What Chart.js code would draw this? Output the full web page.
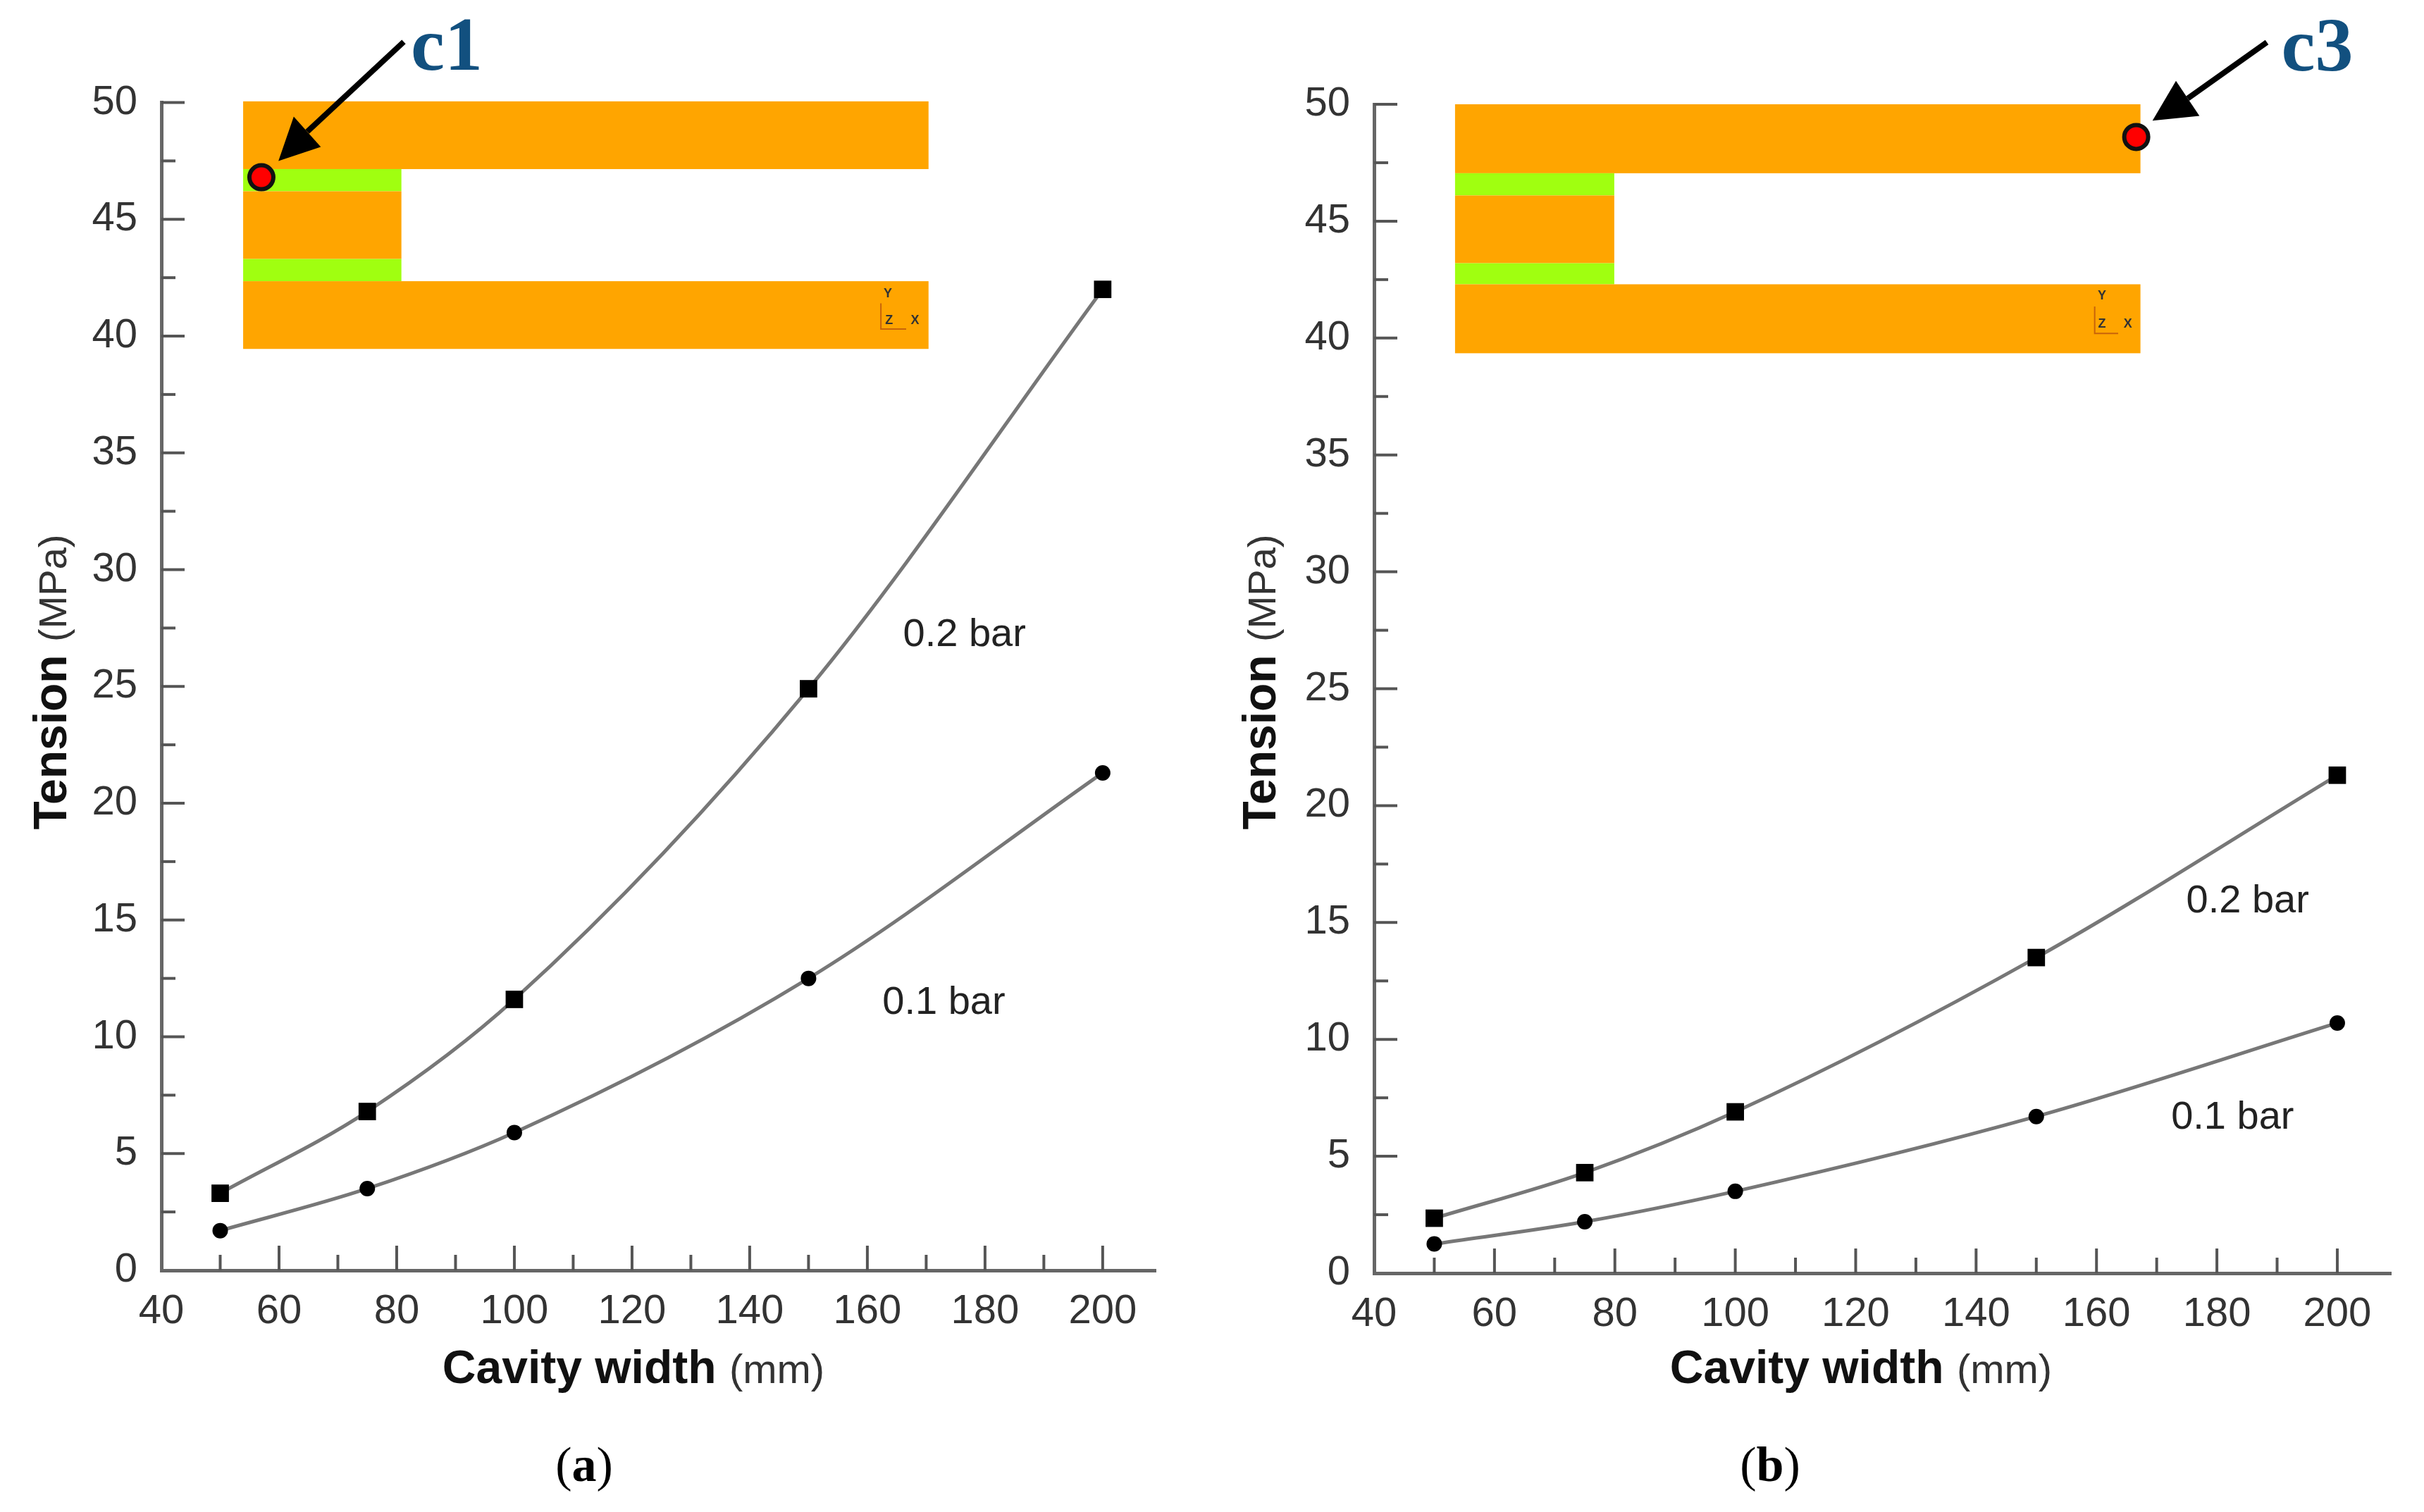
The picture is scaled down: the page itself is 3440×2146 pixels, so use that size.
<!DOCTYPE html>
<html>
<head>
<meta charset="utf-8">
<title>Tension vs cavity width</title>
<script src="https://cdn.jsdelivr.net/npm/chart.js@4"></script>
<style>
    html, body { margin: 0; background: #fff; }
    canvas { position: absolute; top: 0; }
</style>
</head>
<body>
<canvas id="chartA" width="1720" height="2146" style="left:0"></canvas>
<canvas id="chartB" width="1720" height="2146" style="left:1720px"></canvas>
<script>
const cavityWidths = [50, 75, 100, 150, 200];

const tensionA02 = [3.3, 6.8, 11.6, 24.9, 42.0];
const tensionA01 = [1.7, 3.5, 5.9, 12.5, 21.3];
const tensionB02 = [2.35, 4.3, 6.9, 13.5, 21.3];
const tensionB01 = [1.25, 2.2, 3.5, 6.7, 10.7];

const xMajorTicks = [60, 80, 100, 120, 140, 160, 180, 200];
const xMinorTicks = [50, 70, 90, 110, 130, 150, 170, 190];
const yMajorTicks = [5, 10, 15, 20, 25, 30, 35, 40, 45, 50];
const yMinorTicks = [2.5, 7.5, 12.5, 17.5, 22.5, 27.5, 32.5, 37.5, 42.5, 47.5];

const SANS = '"Liberation Sans", Arial, sans-serif';
const SERIF = '"Liberation Serif", "Times New Roman", serif';
const AXIS_GREY = '#666';
const ORANGE = '#ffa500';
const GREEN = '#a0ff10';

// inset, arrow and label places are given in axis units
const panelA = {
    caption: 'a', captionX: 829,
    left: 229, right: 80, top: 145.5, bottom: 343, xMax: 209,
    series02: tensionA02, series01: tensionA01,
    label02: [176.5, 27.2], label01: [173, 11.45],
    inset: { x0: 53.9, x1: 170.4, notch: 80.8, y: [50.05, 47.15, 46.2, 43.3, 42.35, 39.45] },
    triad: { vx: 162.3, hx: 166.6, top: 41.4, bottom: 40.3, yLabel: [163.5, 41.8], zLabel: [163.7, 40.65], xLabel: [168.1, 40.65] },
    dot: [57.0, 46.8],
    arrow: { from: [81.2, 52.6], tip: [59.9, 47.5], b1: [62.5, 49.4], b2: [67.1, 48.1] },
    tag: 'c1', tagAt: [82.4, 51.4],
    xTitleCenter: 899, yTitleBaseline: 94
};
const panelB = {
    caption: 'b', captionX: 792,
    left: 230, right: 47, top: 148, bottom: 339, xMax: 208.9,
    series02: tensionB02, series01: tensionB01,
    label02: [185.1, 15.9], label01: [182.6, 6.65],
    inset: { x0: 53.45, x1: 167.3, notch: 79.9, y: [50, 47.05, 46.1, 43.2, 42.3, 39.35] },
    triad: { vx: 159.7, hx: 163.6, top: 41.35, bottom: 40.2, yLabel: [160.9, 41.8], zLabel: [160.9, 40.6], xLabel: [165.2, 40.6] },
    dot: [166.6, 48.6],
    arrow: { from: [188.3, 52.65], tip: [169.3, 49.3], b1: [173.2, 51.0], b2: [177.1, 49.5] },
    tag: 'c3', tagAt: [190.7, 51.45],
    xTitleCenter: 921, yTitleBaseline: 90
};

// draws text pieces with different fonts one after the other, centred on x
function drawRuns(ctx, runs, x, y) {
    let total = 0;
    runs.forEach(r => { ctx.font = r.font; total += ctx.measureText(r.text).width; });
    let cur = x - total / 2;
    ctx.textAlign = 'left';
    ctx.textBaseline = 'alphabetic';
    runs.forEach(r => {
        ctx.font = r.font;
        ctx.fillStyle = r.color;
        ctx.fillText(r.text, cur, y);
        cur += ctx.measureText(r.text).width;
    });
}

function insetPlugin(panel) {
    return {
        id: 'inset',
        beforeDatasetsDraw(chart) {
            const ctx = chart.ctx, sx = chart.scales.x, sy = chart.scales.y;
            const px = v => sx.getPixelForValue(v), py = v => sy.getPixelForValue(v);
            const ins = panel.inset;
            const band = (x1, top, bottom, color) => {
                ctx.fillStyle = color;
                ctx.fillRect(px(ins.x0), py(top), px(x1) - px(ins.x0), py(bottom) - py(top));
            };
            band(ins.x1, ins.y[0], ins.y[1], ORANGE);
            band(ins.notch, ins.y[1], ins.y[2], GREEN);
            band(ins.notch, ins.y[2], ins.y[3], ORANGE);
            band(ins.notch, ins.y[3], ins.y[4], GREEN);
            band(ins.x1, ins.y[4], ins.y[5], ORANGE);

            // small coordinate triad
            const t = panel.triad;
            ctx.strokeStyle = '#c8640a';
            ctx.lineWidth = 2;
            ctx.beginPath();
            ctx.moveTo(px(t.vx), py(t.top));
            ctx.lineTo(px(t.vx), py(t.bottom));
            ctx.lineTo(px(t.hx), py(t.bottom));
            ctx.stroke();
            ctx.fillStyle = '#333';
            ctx.font = 'bold 18px ' + SANS;
            ctx.textAlign = 'center';
            ctx.textBaseline = 'middle';
            ctx.fillText('Y', px(t.yLabel[0]), py(t.yLabel[1]));
            ctx.fillText('Z', px(t.zLabel[0]), py(t.zLabel[1]));
            ctx.fillText('X', px(t.xLabel[0]), py(t.xLabel[1]));
        },
        afterDraw(chart) {
            const ctx = chart.ctx, sx = chart.scales.x, sy = chart.scales.y, area = chart.chartArea;
            const px = v => sx.getPixelForValue(v), py = v => sy.getPixelForValue(v);

            // ticks point inwards
            ctx.strokeStyle = '#555';
            ctx.lineWidth = 4;
            const xTick = (v, len) => {
                ctx.beginPath(); ctx.moveTo(px(v), area.bottom); ctx.lineTo(px(v), area.bottom - len); ctx.stroke();
            };
            const yTick = (v, len) => {
                ctx.beginPath(); ctx.moveTo(area.left, py(v)); ctx.lineTo(area.left + len, py(v)); ctx.stroke();
            };
            xMajorTicks.forEach(v => xTick(v, 35));
            xMinorTicks.forEach(v => xTick(v, 22));
            yMajorTicks.forEach(v => yTick(v, 33));
            yMinorTicks.forEach(v => yTick(v, 20));

            // pressure labels
            ctx.fillStyle = '#222';
            ctx.font = '56px ' + SANS;
            ctx.textAlign = 'center';
            ctx.textBaseline = 'middle';
            ctx.fillText('0.2 bar', px(panel.label02[0]), py(panel.label02[1]));
            ctx.fillText('0.1 bar', px(panel.label01[0]), py(panel.label01[1]));

            // arrow and marked corner
            const a = panel.arrow;
            ctx.strokeStyle = '#000';
            ctx.lineWidth = 8;
            ctx.beginPath();
            ctx.moveTo(px(a.from[0]), py(a.from[1]));
            ctx.lineTo((px(a.b1[0]) + px(a.b2[0])) / 2, (py(a.b1[1]) + py(a.b2[1])) / 2);
            ctx.stroke();
            ctx.fillStyle = '#000';
            ctx.beginPath();
            ctx.moveTo(px(a.tip[0]), py(a.tip[1]));
            ctx.lineTo(px(a.b1[0]), py(a.b1[1]));
            ctx.lineTo(px(a.b2[0]), py(a.b2[1]));
            ctx.closePath();
            ctx.fill();

            ctx.fillStyle = '#f00';
            ctx.strokeStyle = '#111';
            ctx.lineWidth = 6;
            ctx.beginPath();
            ctx.arc(px(panel.dot[0]), py(panel.dot[1]), 17, 0, Math.PI * 2);
            ctx.fill();
            ctx.stroke();

            ctx.fillStyle = '#12507f';
            ctx.font = 'bold 108px ' + SERIF;
            ctx.textAlign = 'left';
            ctx.textBaseline = 'alphabetic';
            ctx.fillText(panel.tag, px(panel.tagAt[0]), py(panel.tagAt[1]));

            // axis titles, bold word plus a lighter unit
            drawRuns(ctx, [
                { text: 'Cavity width ', font: 'bold 66px ' + SANS, color: '#111' },
                { text: '(mm)', font: '58px ' + SANS, color: '#333' }
            ], panel.xTitleCenter, 1963);

            ctx.save();
            ctx.translate(panel.yTitleBaseline, 968);
            ctx.rotate(-Math.PI / 2);
            drawRuns(ctx, [
                { text: 'Tension ', font: 'bold 66px ' + SANS, color: '#111' },
                { text: '(MPa)', font: '56px ' + SANS, color: '#333' }
            ], 0, 0);
            ctx.restore();

            drawRuns(ctx, [
                { text: '(', font: '70px ' + SERIF, color: '#000' },
                { text: panel.caption, font: 'bold 70px ' + SERIF, color: '#000' },
                { text: ')', font: '70px ' + SERIF, color: '#000' }
            ], panel.captionX, 2102);
        }
    };
}

function makeChart(canvasId, panel) {
    const toPoints = values => values.map((v, i) => ({ x: cavityWidths[i], y: v }));
    const seriesStyle = {
        borderColor: '#777',
        borderWidth: 5,
        pointBackgroundColor: '#000',
        pointBorderColor: '#000',
        pointBorderWidth: 0,
        cubicInterpolationMode: 'monotone',
        clip: false
    };
    return new Chart(document.getElementById(canvasId), {
        type: 'line',
        data: {
            datasets: [
                Object.assign({ label: '0.2 bar', data: toPoints(panel.series02), pointStyle: 'rect', pointRadius: 17.5 }, seriesStyle),
                Object.assign({ label: '0.1 bar', data: toPoints(panel.series01), pointStyle: 'circle', pointRadius: 11 }, seriesStyle)
            ]
        },
        options: {
            responsive: false,
            animation: false,
            devicePixelRatio: 1,
            layout: { padding: { top: panel.top, right: panel.right } },
            plugins: { legend: { display: false }, tooltip: { enabled: false } },
            scales: {
                x: {
                    type: 'linear',
                    min: 40,
                    max: panel.xMax,
                    afterFit: scale => { scale.height = panel.bottom; },
                    grid: { display: false },
                    border: { display: true, color: AXIS_GREY, width: 5 },
                    ticks: {
                        stepSize: 20,
                        includeBounds: false,
                        autoSkip: false,
                        maxRotation: 0,
                        padding: 16,
                        color: '#333',
                        font: { family: SANS, size: 58 }
                    }
                },
                y: {
                    type: 'linear',
                    min: 0,
                    max: 50,
                    afterFit: scale => { scale.width = panel.left; },
                    grid: { display: false },
                    border: { display: true, color: AXIS_GREY, width: 5 },
                    ticks: {
                        stepSize: 5,
                        autoSkip: false,
                        padding: 26,
                        color: '#333',
                        font: { family: SANS, size: 58 }
                    }
                }
            }
        },
        plugins: [insetPlugin(panel)]
    });
}

makeChart('chartA', panelA);
makeChart('chartB', panelB);
</script>
</body>
</html>
